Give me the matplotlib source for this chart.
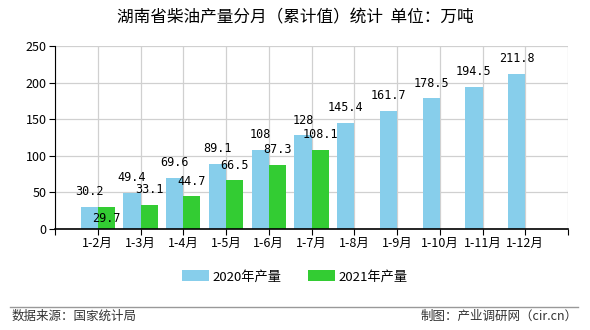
import matplotlib
matplotlib.use("Agg")
import matplotlib.pyplot as plt
from matplotlib.lines import Line2D

plt.rcParams['font.family'] = ['Noto Sans CJK SC', 'DejaVu Sans']

categories = ["1-2月", "1-3月", "1-4月", "1-5月", "1-6月", "1-7月",
              "1-8月", "1-9月", "1-10月", "1-11月", "1-12月"]
values_2020 = [30.2, 49.4, 69.6, 89.1, 108, 128, 145.4, 161.7, 178.5, 194.5, 211.8]
values_2021 = [29.7, 33.1, 44.7, 66.5, 87.3, 108.1]
label_2020 = ["30.2", "49.4", "69.6", "89.1", "108", "128", "145.4", "161.7", "178.5", "194.5", "211.8"]
label_2021 = ["29.7", "33.1", "44.7", "66.5", "87.3", "108.1"]
series_names = ["2020年产量", "2021年产量"]
title = "湖南省柴油产量分月（累计值）统计  单位：万吨"
source_text = "数据来源：国家统计局"
credit_text = "制图：产业调研网（cir.cn）"

c2020 = "#87CEEB"
c2021 = "#33CC33"

fig = plt.figure(figsize=(5.9, 3.3), dpi=100)
ax = fig.add_axes([55/590, 1-229/330, (568-55)/590, (229-46)/330])

w = 0.4
xs20 = [i + 1 for i in range(len(values_2020))]
xs21 = [i + 1 for i in range(len(values_2021))]
ax.bar([x - w/2 for x in xs20], values_2020, width=w, color=c2020, zorder=2, label=series_names[0])
ax.bar([x + w/2 for x in xs21], values_2021, width=w, color=c2021, zorder=2, label=series_names[1])

mono = dict(family=['DejaVu Sans Mono'], fontsize=8.5, ha='center', va='center', color='black', zorder=4)
for x, v, t in zip(xs20, values_2020, label_2020):
    ax.annotate(t, (x - w/2, v), xytext=(0, 11), textcoords='offset points', **mono)
for i, (x, v, t) in enumerate(zip(xs21, values_2021, label_2021)):
    off = 11
    if abs(v - values_2020[i]) < 8:
        off = -8
    ax.annotate(t, (x + w/2, v), xytext=(0, off), textcoords='offset points', **mono)

ax.set_xlim(0, 12)
ax.set_ylim(0, 250)
ax.set_yticks([0, 50, 100, 150, 200, 250])
ax.set_xticks(list(range(0, 13)))
ax.set_xticklabels([""] + categories + [""], fontsize=9)
ax.tick_params(axis='y', labelsize=9, length=4, width=0.8, pad=2)
ax.tick_params(axis='x', length=4, width=0.8, pad=2)
ax.grid(True, color='#D0D0D0', linewidth=0.9, zorder=0)
ax.set_axisbelow(True)
for s in ['top', 'right']:
    ax.spines[s].set_visible(False)
ax.spines['left'].set_color('black')
ax.spines['bottom'].set_color('black')
ax.spines['bottom'].set_linewidth(1.2)

fig.text(0.5, 1-18/330, title, ha='center', va='center', fontsize=12)

leg = fig.legend(loc='center', bbox_to_anchor=(0.5, 1-277/330), ncol=2, frameon=False,
                 fontsize=9.5, handlelength=2.0, handleheight=0.9, columnspacing=2.0, handletextpad=0.3)

fig.add_artist(Line2D([10/590, 578/590], [1-307/330, 1-307/330], color='#999999', linewidth=1))
fig.text(12/590, 1-316/330, source_text, ha='left', va='center', fontsize=9, color='#333333')
fig.text(578/590, 1-316/330, credit_text, ha='right', va='center', fontsize=9, color='#333333')

fig.savefig("out.png", dpi=100, facecolor='white')
